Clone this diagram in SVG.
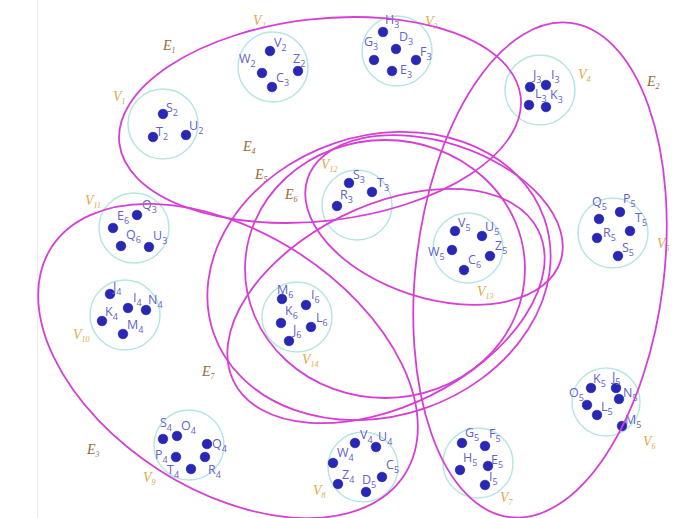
<svg xmlns="http://www.w3.org/2000/svg" width="673" height="518" viewBox="0 0 673 518">
<style>
.bg{fill:#ffffff}
.edge{fill:none;stroke:#d63fd6;stroke-width:1.8}
.vc{fill:none;stroke:#b6e6e4;stroke-width:1.5}
.dot{fill:#2828b8;stroke:#1a1a90;stroke-width:0.6}
.lb{font-family:"Open Sans","DejaVu Sans",sans-serif;font-size:12.5px;fill:#6262cc}
.vl{font-family:"Liberation Serif",serif;font-style:italic;font-size:14px;fill:#e6a84a}
.el{font-family:"Liberation Serif",serif;font-style:italic;font-size:14px;fill:#9a6a3c}
.s{font-size:9px}
.vs{font-size:8px}
</style>
<rect class="bg" x="0" y="0" width="673" height="518"/>
<line x1="37.5" y1="0" x2="37.5" y2="518" stroke="#ececec" stroke-width="1"/>

<g id="V1">
<circle class="vc" cx="163" cy="124" r="35"/>
<circle class="dot" cx="163" cy="114" r="4.8"/><circle class="dot" cx="153" cy="137" r="4.8"/><circle class="dot" cx="186" cy="135" r="4.8"/>
<text class="lb" x="166" y="112">S<tspan class="s" dy="4">2</tspan></text>
<text class="lb" x="156" y="136">T<tspan class="s" dy="4">2</tspan></text>
<text class="lb" x="189" y="130">U<tspan class="s" dy="4">2</tspan></text>
<text class="vl" x="113" y="101">V<tspan class="vs" dy="3">1</tspan></text>
</g>
<g id="V2">
<circle class="vc" cx="273" cy="67" r="35"/>
<circle class="dot" cx="270" cy="51" r="4.8"/><circle class="dot" cx="262" cy="73" r="4.8"/><circle class="dot" cx="272" cy="87" r="4.8"/><circle class="dot" cx="298" cy="71" r="4.8"/>
<text class="lb" x="274" y="47">V<tspan class="s" dy="4">2</tspan></text>
<text class="lb" x="239" y="63">W<tspan class="s" dy="4">2</tspan></text>
<text class="lb" x="276" y="82">C<tspan class="s" dy="4">3</tspan></text>
<text class="lb" x="293" y="63">Z<tspan class="s" dy="4">2</tspan></text>
<text class="vl" x="253" y="25">V<tspan class="vs" dy="3">2</tspan></text>
</g>
<g id="V3">
<circle class="vc" cx="397" cy="51" r="35"/>
<circle class="dot" cx="383" cy="32" r="4.8"/><circle class="dot" cx="374" cy="60" r="4.8"/><circle class="dot" cx="396" cy="49" r="4.8"/><circle class="dot" cx="416" cy="60" r="4.8"/><circle class="dot" cx="392" cy="71" r="4.8"/>
<text class="lb" x="385" y="24">H<tspan class="s" dy="4">3</tspan></text>
<text class="lb" x="364" y="46">G<tspan class="s" dy="4">3</tspan></text>
<text class="lb" x="399" y="41">D<tspan class="s" dy="4">3</tspan></text>
<text class="lb" x="420" y="56">F<tspan class="s" dy="4">3</tspan></text>
<text class="lb" x="400" y="74">E<tspan class="s" dy="4">3</tspan></text>
<text class="vl" x="425" y="26">V<tspan class="vs" dy="3">3</tspan></text>
</g>
<g id="V4">
<circle class="vc" cx="540" cy="90" r="35"/>
<circle class="dot" cx="530" cy="87" r="4.8"/><circle class="dot" cx="546" cy="85" r="4.8"/><circle class="dot" cx="529" cy="105" r="4.8"/><circle class="dot" cx="546" cy="107" r="4.8"/>
<text class="lb" x="533" y="79">J<tspan class="s" dy="4">3</tspan></text>
<text class="lb" x="551" y="79">I<tspan class="s" dy="4">3</tspan></text>
<text class="lb" x="535" y="98">L<tspan class="s" dy="4">3</tspan></text>
<text class="lb" x="550" y="99">K<tspan class="s" dy="4">3</tspan></text>
<text class="vl" x="578" y="79">V<tspan class="vs" dy="3">4</tspan></text>
</g>
<g id="V5">
<circle class="vc" cx="613" cy="233" r="35"/>
<circle class="dot" cx="599" cy="219" r="4.8"/><circle class="dot" cx="620" cy="212" r="4.8"/><circle class="dot" cx="630" cy="231" r="4.8"/><circle class="dot" cx="597" cy="238" r="4.8"/><circle class="dot" cx="618" cy="256" r="4.8"/>
<text class="lb" x="592" y="206">Q<tspan class="s" dy="4">5</tspan></text>
<text class="lb" x="623" y="203">P<tspan class="s" dy="4">5</tspan></text>
<text class="lb" x="635" y="222">T<tspan class="s" dy="4">5</tspan></text>
<text class="lb" x="603" y="237">R<tspan class="s" dy="4">5</tspan></text>
<text class="lb" x="622" y="252">S<tspan class="s" dy="4">5</tspan></text>
<text class="vl" x="657" y="248">V<tspan class="vs" dy="3">5</tspan></text>
</g>
<g id="V6">
<circle class="vc" cx="606" cy="402" r="34"/>
<circle class="dot" cx="591" cy="388" r="4.8"/><circle class="dot" cx="616" cy="388" r="4.8"/><circle class="dot" cx="587" cy="405" r="4.8"/><circle class="dot" cx="619" cy="399" r="4.8"/><circle class="dot" cx="597" cy="415" r="4.8"/><circle class="dot" cx="622" cy="426" r="4.8"/>
<text class="lb" x="593" y="383">K<tspan class="s" dy="4">5</tspan></text>
<text class="lb" x="612" y="381">J<tspan class="s" dy="4">5</tspan></text>
<text class="lb" x="569" y="397">O<tspan class="s" dy="4">5</tspan></text>
<text class="lb" x="623" y="397">N<tspan class="s" dy="4">5</tspan></text>
<text class="lb" x="601" y="411">L<tspan class="s" dy="4">5</tspan></text>
<text class="lb" x="625" y="424">M<tspan class="s" dy="4">5</tspan></text>
<text class="vl" x="643" y="446">V<tspan class="vs" dy="3">6</tspan></text>
</g>
<g id="V7">
<circle class="vc" cx="478" cy="463" r="35"/>
<circle class="dot" cx="462" cy="443" r="4.8"/><circle class="dot" cx="485" cy="446" r="4.8"/><circle class="dot" cx="460" cy="470" r="4.8"/><circle class="dot" cx="488" cy="466" r="4.8"/><circle class="dot" cx="485" cy="485" r="4.8"/>
<text class="lb" x="465" y="437">G<tspan class="s" dy="4">5</tspan></text>
<text class="lb" x="489" y="438">F<tspan class="s" dy="4">5</tspan></text>
<text class="lb" x="463" y="462">H<tspan class="s" dy="4">5</tspan></text>
<text class="lb" x="491" y="464">E<tspan class="s" dy="4">5</tspan></text>
<text class="lb" x="489" y="481">I<tspan class="s" dy="4">5</tspan></text>
<text class="vl" x="500" y="502">V<tspan class="vs" dy="3">7</tspan></text>
</g>
<g id="V8">
<circle class="vc" cx="363" cy="467" r="35"/>
<circle class="dot" cx="355" cy="443" r="4.8"/><circle class="dot" cx="376" cy="447" r="4.8"/><circle class="dot" cx="333" cy="463" r="4.8"/><circle class="dot" cx="382" cy="477" r="4.8"/><circle class="dot" cx="338" cy="484" r="4.8"/><circle class="dot" cx="366" cy="492" r="4.8"/>
<text class="lb" x="360" y="439">V<tspan class="s" dy="4">4</tspan></text>
<text class="lb" x="378" y="441">U<tspan class="s" dy="4">4</tspan></text>
<text class="lb" x="337" y="457">W<tspan class="s" dy="4">4</tspan></text>
<text class="lb" x="386" y="469">C<tspan class="s" dy="4">5</tspan></text>
<text class="lb" x="342" y="479">Z<tspan class="s" dy="4">4</tspan></text>
<text class="lb" x="362" y="484">D<tspan class="s" dy="4">5</tspan></text>
<text class="vl" x="313" y="495">V<tspan class="vs" dy="3">8</tspan></text>
</g>
<g id="V9">
<circle class="vc" cx="189" cy="445" r="35"/>
<circle class="dot" cx="163" cy="439" r="4.8"/><circle class="dot" cx="177" cy="436" r="4.8"/><circle class="dot" cx="207" cy="444" r="4.8"/><circle class="dot" cx="176" cy="457" r="4.8"/><circle class="dot" cx="205" cy="457" r="4.8"/><circle class="dot" cx="191" cy="469" r="4.8"/>
<text class="lb" x="160" y="427">S<tspan class="s" dy="4">4</tspan></text>
<text class="lb" x="181" y="430">O<tspan class="s" dy="4">4</tspan></text>
<text class="lb" x="212" y="448">Q<tspan class="s" dy="4">4</tspan></text>
<text class="lb" x="155" y="459">P<tspan class="s" dy="4">4</tspan></text>
<text class="lb" x="167" y="474">T<tspan class="s" dy="4">4</tspan></text>
<text class="lb" x="208" y="474">R<tspan class="s" dy="4">4</tspan></text>
<text class="vl" x="143" y="482">V<tspan class="vs" dy="3">9</tspan></text>
</g>
<g id="V10">
<circle class="vc" cx="125" cy="315" r="35"/>
<circle class="dot" cx="110" cy="294" r="4.8"/><circle class="dot" cx="128" cy="308" r="4.8"/><circle class="dot" cx="146" cy="310" r="4.8"/><circle class="dot" cx="102" cy="321" r="4.8"/><circle class="dot" cx="123" cy="334" r="4.8"/>
<text class="lb" x="113" y="291">J<tspan class="s" dy="4">4</tspan></text>
<text class="lb" x="133" y="302">I<tspan class="s" dy="4">4</tspan></text>
<text class="lb" x="148" y="304">N<tspan class="s" dy="4">4</tspan></text>
<text class="lb" x="105" y="316">K<tspan class="s" dy="4">4</tspan></text>
<text class="lb" x="127" y="329">M<tspan class="s" dy="4">4</tspan></text>
<text class="vl" x="73" y="339">V<tspan class="vs" dy="3">10</tspan></text>
</g>
<g id="V11">
<circle class="vc" cx="134" cy="228" r="35"/>
<circle class="dot" cx="137" cy="215" r="4.8"/><circle class="dot" cx="113" cy="228" r="4.8"/><circle class="dot" cx="121" cy="246" r="4.8"/><circle class="dot" cx="149" cy="247" r="4.8"/>
<text class="lb" x="142" y="209">Q<tspan class="s" dy="4">3</tspan></text>
<text class="lb" x="117" y="220">E<tspan class="s" dy="4">6</tspan></text>
<text class="lb" x="126" y="239">Q<tspan class="s" dy="4">6</tspan></text>
<text class="lb" x="153" y="240">U<tspan class="s" dy="4">3</tspan></text>
<text class="vl" x="85" y="205">V<tspan class="vs" dy="3">11</tspan></text>
</g>
<g id="V12">
<circle class="vc" cx="357" cy="205" r="35"/>
<circle class="dot" cx="349" cy="183" r="4.8"/><circle class="dot" cx="372" cy="192" r="4.8"/><circle class="dot" cx="337" cy="206" r="4.8"/>
<text class="lb" x="353" y="179">S<tspan class="s" dy="4">3</tspan></text>
<text class="lb" x="377" y="187">T<tspan class="s" dy="4">3</tspan></text>
<text class="lb" x="340" y="199">R<tspan class="s" dy="4">3</tspan></text>
<text class="vl" x="321" y="169">V<tspan class="vs" dy="3">12</tspan></text>
</g>
<g id="V13">
<circle class="vc" cx="468" cy="248" r="35"/>
<circle class="dot" cx="455" cy="231" r="4.8"/><circle class="dot" cx="482" cy="236" r="4.8"/><circle class="dot" cx="452" cy="250" r="4.8"/><circle class="dot" cx="490" cy="256" r="4.8"/><circle class="dot" cx="464" cy="270" r="4.8"/>
<text class="lb" x="458" y="227">V<tspan class="s" dy="4">5</tspan></text>
<text class="lb" x="485" y="231">U<tspan class="s" dy="4">5</tspan></text>
<text class="lb" x="428" y="256">W<tspan class="s" dy="4">5</tspan></text>
<text class="lb" x="495" y="250">Z<tspan class="s" dy="4">5</tspan></text>
<text class="lb" x="468" y="264">C<tspan class="s" dy="4">6</tspan></text>
<text class="vl" x="477" y="296">V<tspan class="vs" dy="3">13</tspan></text>
</g>
<g id="V14">
<circle class="vc" cx="297" cy="317" r="35"/>
<circle class="dot" cx="282" cy="299" r="4.8"/><circle class="dot" cx="306" cy="305" r="4.8"/><circle class="dot" cx="281" cy="323" r="4.8"/><circle class="dot" cx="311" cy="327" r="4.8"/><circle class="dot" cx="289" cy="341" r="4.8"/>
<text class="lb" x="277" y="294">M<tspan class="s" dy="4">6</tspan></text>
<text class="lb" x="311" y="299">I<tspan class="s" dy="4">6</tspan></text>
<text class="lb" x="285" y="315">K<tspan class="s" dy="4">6</tspan></text>
<text class="lb" x="316" y="322">L<tspan class="s" dy="4">6</tspan></text>
<text class="lb" x="293" y="334">J<tspan class="s" dy="4">6</tspan></text>
<text class="vl" x="302" y="364">V<tspan class="vs" dy="3">14</tspan></text>
</g>

<g id="hyperedges">
<ellipse id="E1" class="edge" cx="320" cy="120" rx="202" ry="101" transform="rotate(-6.6 320 120)"/>
<ellipse id="E2" class="edge" cx="540" cy="270" rx="124" ry="249" transform="rotate(7 540 270)"/>
<ellipse id="E3" class="edge" cx="228" cy="361" rx="210" ry="129" transform="rotate(32.8 228 361)"/>
<ellipse id="E4" class="edge" cx="379" cy="276" rx="175" ry="140" transform="rotate(-19 379 276)"/>
<ellipse id="E5" class="edge" cx="385" cy="269" rx="140" ry="129"/>
<ellipse id="E6" class="edge" cx="434" cy="220" rx="133" ry="78" transform="rotate(18 434 220)"/>
<ellipse id="E7" class="edge" cx="386" cy="306" rx="170" ry="100" transform="rotate(-26.4 386 306)"/>
</g>
<g id="edge-labels">
<text class="el" x="163" y="50">E<tspan class="vs" dy="3">1</tspan></text>
<text class="el" x="647" y="86">E<tspan class="vs" dy="3">2</tspan></text>
<text class="el" x="87" y="454">E<tspan class="vs" dy="3">3</tspan></text>
<text class="el" x="243" y="151">E<tspan class="vs" dy="3">4</tspan></text>
<text class="el" x="255" y="179">E<tspan class="vs" dy="3">5</tspan></text>
<text class="el" x="285" y="199">E<tspan class="vs" dy="3">6</tspan></text>
<text class="el" x="202" y="376">E<tspan class="vs" dy="3">7</tspan></text>
</g>
</svg>
